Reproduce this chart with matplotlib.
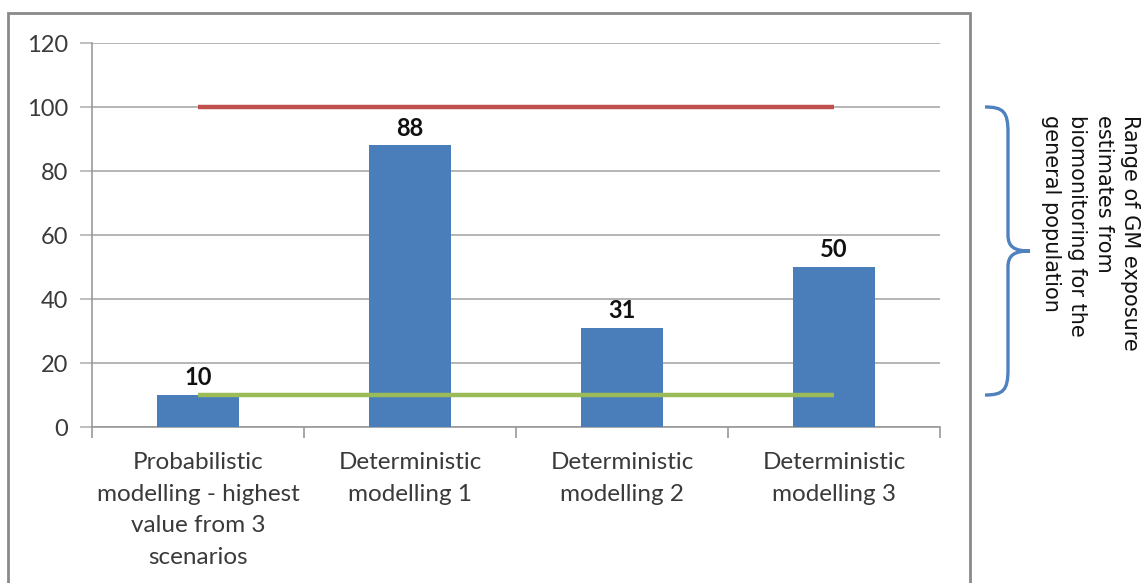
import matplotlib
matplotlib.use("Agg")
import matplotlib.pyplot as plt
from matplotlib.path import Path
from matplotlib.patches import PathPatch, Rectangle
import matplotlib.transforms as mtransforms
import numpy as np

categories = [
    "Probabilistic\nmodelling - highest\nvalue from 3\nscenarios",
    "Deterministic\nmodelling 1",
    "Deterministic\nmodelling 2",
    "Deterministic\nmodelling 3",
]
values = [10, 88, 31, 50]
upper_bound = [100, 100, 100, 100]
lower_bound = [10, 10, 10, 10]
y_ticks = [0, 20, 40, 60, 80, 100, 120]
brace_range = (10, 100)
brace_label = "Range of GM exposure\nestimates from\nbiomonitoring for the\ngeneral population"

W, H = 1142, 583
fig = plt.figure(figsize=(W / 100, H / 100), dpi=100)
fig.patch.set_facecolor("white")

ax_left, ax_right, ax_top, ax_bottom = 92, 940, 43, 427
ax = fig.add_axes([ax_left / W, 1 - ax_bottom / H,
                   (ax_right - ax_left) / W, (ax_bottom - ax_top) / H])

x = np.arange(len(categories))
ax.bar(x, values, width=0.39, color="#4A7EBB", zorder=3)
ax.plot(x, upper_bound, color="#C0504D", lw=3.2, solid_capstyle="butt", zorder=4)
ax.plot(x, lower_bound, color="#9BBB59", lw=3.2, solid_capstyle="butt", zorder=4)

for xi, v in zip(x, values):
    ax.annotate(f"{v}", (xi, v), xytext=(0, 4), textcoords="offset points",
                ha="center", va="bottom", fontsize=17, fontweight="bold",
                family="Lato", color="#111111")

ax.set_xlim(-0.5, len(categories) - 0.5)
ax.set_ylim(0, 120)
ax.set_yticks(y_ticks)
ax.set_yticklabels([str(t) for t in y_ticks], family="Lato", fontsize=17,
                   color="#3a3a3a")
ax.grid(axis="y", color="#b4b4b4", lw=1.4, zorder=0)
ax.set_axisbelow(True)

# category labels centred under each bar, tick marks between categories
ax.set_xticks(x)
ax.set_xticklabels(categories, family="Lato", fontsize=17.5, color="#3a3a3a",
                   linespacing=1.62)
ax.tick_params(axis="x", length=0, pad=18)
ax.set_xticks(np.arange(-0.5, len(categories) + 0.5, 1), minor=True)
ax.tick_params(axis="x", which="minor", length=8, width=1.2, color="#9a9a9a")
ax.tick_params(axis="y", length=9, width=1.2, color="#b4b4b4", pad=8)

for side in ("top", "right"):
    ax.spines[side].set_visible(False)
for side in ("left", "bottom"):
    ax.spines[side].set_color("#9a9a9a")
    ax.spines[side].set_linewidth(1.2)

# outer chart frame
frame = Rectangle((8 / W, -0.05), (970 - 8) / W, 1.05 - 13 / H,
                  transform=fig.transFigure, fill=False, edgecolor="#8a8a8a",
                  lw=2, zorder=10)
fig.patches.append(frame)

# curly brace spanning the biomonitoring range (x in pixels past the axes)
def ax_x(px):
    return (px - ax_left) / (ax_right - ax_left)

lo, hi = brace_range
mid = (lo + hi) / 2
xa, xb, xc = ax_x(985), ax_x(1008), ax_x(1030)
verts = [
    (xa, hi),
    (xa + (xb - xa) * 0.8, hi), (xb, hi - 1.5), (xb, hi - 8),
    (xb, mid + 5),
    (xb, mid + 1.2), (xb + (xc - xb) * 0.3, mid), (xc, mid),
    (xb + (xc - xb) * 0.3, mid), (xb, mid - 1.2), (xb, mid - 5),
    (xb, lo + 8),
    (xb, lo + 1.5), (xa + (xb - xa) * 0.8, lo), (xa, lo),
]
codes = [Path.MOVETO,
         Path.CURVE4, Path.CURVE4, Path.CURVE4,
         Path.LINETO,
         Path.CURVE4, Path.CURVE4, Path.CURVE4,
         Path.CURVE4, Path.CURVE4, Path.CURVE4,
         Path.LINETO,
         Path.CURVE4, Path.CURVE4, Path.CURVE4]
trans = mtransforms.blended_transform_factory(ax.transAxes, ax.transData)
brace = PathPatch(Path(verts, codes), transform=trans, fill=False,
                  edgecolor="#4F81BD", lw=2.4, clip_on=False, zorder=5)
ax.add_patch(brace)

fig.text(1140 / W, 1 - 115 / H, brace_label, rotation=-90, ha="right", va="top",
         family="DejaVu Sans", fontsize=15, color="#111111",
         multialignment="left", linespacing=1.4)

fig.savefig("out.png", dpi=100, facecolor="white")
